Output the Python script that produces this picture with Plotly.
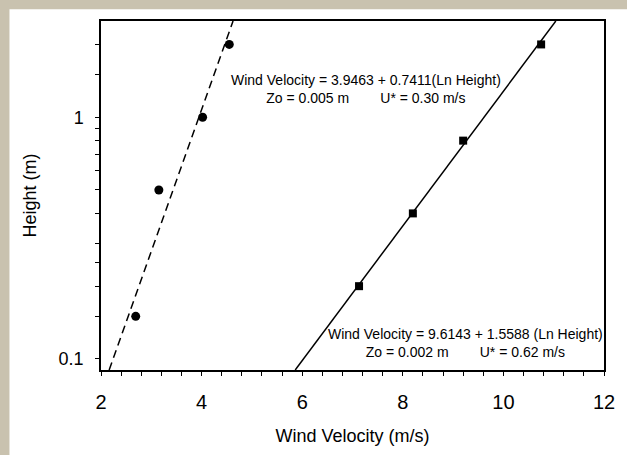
import numpy as np
import plotly.graph_objects as go

# Data
circle_velocity = [4.55, 4.02, 3.15, 2.69]
circle_height = [2.0, 1.0, 0.5, 0.15]
square_velocity = [10.75, 9.2, 8.2, 7.13]
square_height = [2.0, 0.8, 0.4, 0.2]

# Fitted log-law lines: velocity = a + b * ln(height)
fit1_a, fit1_b = 3.9463, 0.7411
fit2_a, fit2_b = 9.6143, 1.5588
line_heights = [0.09, 2.5]

x_ticks = [2, 4, 6, 8, 10, 12]
y_tickvals = [0.1, 0.15, 0.2, 0.25, 0.3, 0.4, 0.5, 0.6, 0.7, 0.8, 0.9, 1, 1.5, 2]
y_ticktext = ["0.1" if v == 0.1 else ("1" if v == 1 else "") for v in y_tickvals]

FONT = "Liberation Sans, Arial, sans-serif"
BEIGE = "#C9C2AF"

fig = go.Figure()

lh = np.array(line_heights)
fig.add_trace(go.Scatter(x=fit1_a + fit1_b * np.log(lh), y=lh, mode="lines",
                         line=dict(color="black", width=1.5, dash="8px,5px"),
                         showlegend=False, hoverinfo="skip"))
fig.add_trace(go.Scatter(x=fit2_a + fit2_b * np.log(lh), y=lh, mode="lines",
                         line=dict(color="black", width=1.5),
                         showlegend=False, hoverinfo="skip"))
fig.add_trace(go.Scatter(x=circle_velocity, y=circle_height, mode="markers",
                         marker=dict(symbol="circle", size=9, color="black"),
                         showlegend=False))
fig.add_trace(go.Scatter(x=square_velocity, y=square_height, mode="markers",
                         marker=dict(symbol="square", size=8, color="black"),
                         showlegend=False))

nb = "\u00a0"
fig.add_annotation(xref="paper", yref="paper", x=0.526, y=0.806,
                   text="Wind Velocity = 3.9463 + 0.7411(Ln Height)<br>"
                        + "Zo = 0.005 m" + nb * 8 + "U* = 0.30 m/s",
                   showarrow=False, align="center", xanchor="center", yanchor="middle",
                   font=dict(family=FONT, size=14, color="black"))
fig.add_annotation(xref="paper", yref="paper", x=0.724, y=0.077,
                   text="Wind Velocity = 9.6143 + 1.5588 (Ln Height)<br>"
                        + "Zo = 0.002 m" + nb * 8 + "U* = 0.62 m/s",
                   showarrow=False, align="center", xanchor="center", yanchor="middle",
                   font=dict(family=FONT, size=14, color="black"))

# white card on a beige page (beige shows on top and left only)
fig.add_shape(type="rect", xref="paper", yref="paper", x0=-0.1820, x1=1.2, y0=-0.3, y1=1.0337,
              fillcolor="white", line=dict(width=0), layer="below")

fig.update_xaxes(range=[2, 12], tickvals=x_ticks, ticks="outside", ticklen=4, tickwidth=1,
                 tickcolor="black", showline=True, linecolor="black", linewidth=1.5,
                 mirror=True, showgrid=False, zeroline=False, ticklabelstandoff=9,
                 minor=dict(dtick=0.4, tick0=2, ticks="outside", ticklen=4, tickcolor="black"),
                 tickfont=dict(family=FONT, size=20, color="black"),
                 title=dict(text="Wind Velocity (m/s)", standoff=18,
                            font=dict(family=FONT, size=18, color="black")))
fig.update_yaxes(type="log", range=[np.log10(0.09), np.log10(2.5)], tickvals=y_tickvals,
                 ticktext=y_ticktext, ticks="outside", ticklen=4, tickwidth=1, tickcolor="black",
                 showline=True, linecolor="black", linewidth=1.5, mirror=True,
                 showgrid=False, zeroline=False, ticklabelstandoff=8,
                 tickfont=dict(family=FONT, size=18, color="black"),
                 title=dict(text="Height (m)", standoff=17,
                            font=dict(family=FONT, size=18, color="black")))

fig.update_layout(width=627, height=455, margin=dict(l=101, r=15, t=21, b=78),
                  paper_bgcolor=BEIGE, plot_bgcolor="white",
                  font=dict(family=FONT, color="black"))

fig.write_html("out.html", config={"displayModeBar": False},
               post_script="document.documentElement.style.overflow='hidden';"
                           "document.body.style.margin='0';document.body.style.overflow='hidden';")
